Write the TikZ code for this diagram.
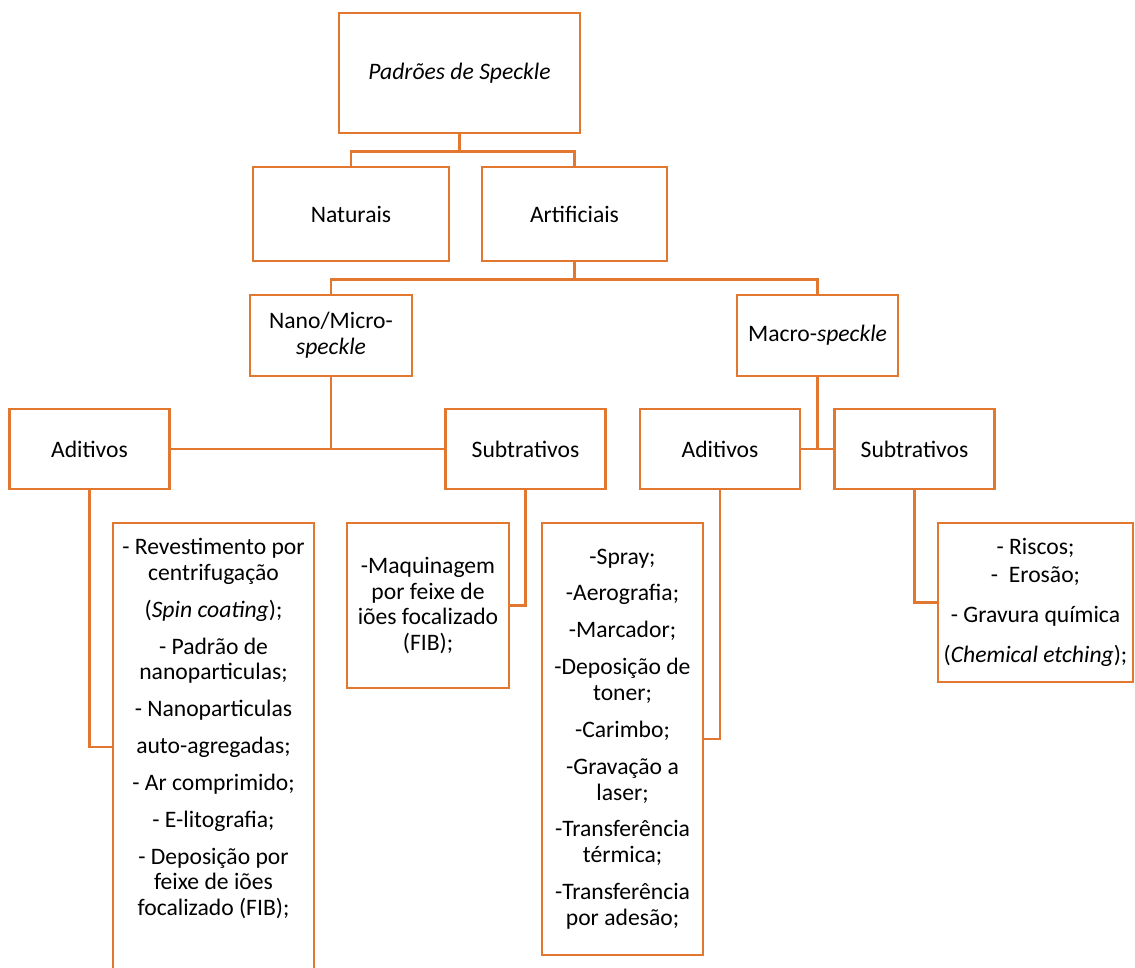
\documentclass[tikz,border=0pt]{standalone}
\usepackage{fontspec}
\setmainfont{Carlito}
\usepackage{xcolor}
\usepackage{tikz}
\usetikzlibrary{positioning}
\definecolor{boxorange}{RGB}{226,120,48}

\begin{document}
\begin{tikzpicture}[on grid,
    every node/.style={font=\fontsize{16.8}{18.4}\selectfont},
    box/.style={draw=boxorange,line width=2pt,inner sep=0pt,align=center},
    smallbox/.style={box,minimum width=4cm,minimum height=2cm},
    link/.style={draw=boxorange,line width=1.8pt}]
    \useasboundingbox (0,0) rectangle (28.375,-24.175);
    \clip (0,0) rectangle (28.375,-24.175);
    	\node (top) [box,minimum width=6.025cm,minimum height=3cm] at (11.4875,-1.825) {\textit{Padrões de Speckle}};
    	\node (nat) [box,minimum width=4.9cm,minimum height=2.35cm,below left=3.525cm and 2.7125cm of top] {Naturais};
    	\node (art) [box,minimum width=4.625cm,minimum height=2.35cm,right=5.5875cm of nat] {Artificiais};
    	\node (nano) [box,minimum width=4.05cm,minimum height=2.025cm,below left=3.0375cm and 6.0875cm of art] {Nano/Micro-\\\textit{speckle}};
    	\node (macro) [box,minimum width=4.025cm,minimum height=2.025cm,right=12.1625cm of nano] {Macro-\textit{speckle}};
    	\node (adit1) [smallbox,below left=2.8375cm and 6.0375cm of nano] {Aditivos};
    	\node (subt1) [smallbox,right=10.9cm of adit1] {Subtrativos};
    	\node (adit2) [smallbox,right=4.8625cm of subt1] {Aditivos};
    	\node (subt2) [smallbox,right=4.8625cm of adit2] {Subtrativos};
    	\node (list1) [box,minimum width=5.025cm,minimum height=11.2cm,below right=7.45cm and 3.1cm of adit1] {\parbox[c][11.1cm][t]{4.9cm}{\centering\vspace*{0.33cm}
    	- Revestimento por\\
    	centrifugação\\[7.8pt]
    	(\textit{Spin coating});\\[7.8pt]
    	- Padrão de\\
    	nanoparticulas;\\[7.8pt]
    	- Nanoparticulas\\[7.8pt]
    	auto-agregadas;\\[7.8pt]
    	- Ar comprimido;\\[7.8pt]
    	- E-litografia;\\[7.8pt]
    	- Deposição por\\
    	feixe de iões\\
    	focalizado (FIB);}};
    	\node (list2) [box,minimum width=4.05cm,minimum height=4.125cm,below left=3.9125cm and 2.4375cm of subt1] {-Maquinagem\\por feixe de\\iões focalizado\\(FIB);};
    	\node (list3) [box,minimum width=4.025cm,minimum height=10.8cm,below left=7.25cm and 2.4375cm of adit2] {-Spray;\\[7.8pt]
    	-Aerografia;\\[7.8pt]
    	-Marcador;\\[7.8pt]
    	-Deposição de\\toner;\\[7.8pt]
    	-Carimbo;\\[7.8pt]
    	-Gravação a\\laser;\\[7.8pt]
    	-Transferência\\térmica;\\[7.8pt]
    	-Transferência\\por adesão;};
    	\node (list4) [box,minimum width=4.875cm,minimum height=3.975cm,below right=3.8375cm and 3.025cm of subt2] {- Riscos;\\[1.4pt]
    	-~ Erosão;\\[9.9pt]
    	- Gravura química\\[9.9pt]
    	(\textit{Chemical etching});};
    	% connectors
    	\draw[link] (top.south) -- ++(0,-0.425) coordinate (j1) -| (nat.north);
    	\draw[link] (j1) -| (art.north);
    	\draw[link] (art.south) -- ++(0,-0.425) coordinate (j2) -| (nano.north);
    	\draw[link] (j2) -| (macro.north);
    	\draw[link] (nano.south) -- (nano.south |- adit1.east);
    	\draw[link] (adit1.east) -- (subt1.west);
    	\draw[link] (macro.south) -- (macro.south |- adit2.east);
    	\draw[link] (adit2.east) -- (subt2.west);
    	\draw[link] (adit1.south) |- (list1.west);
    	\draw[link] (subt1.south) |- (list2.east);
    	\draw[link] (adit2.south) |- (list3.east);
    	\draw[link] (subt2.south) |- (list4.west);
\end{tikzpicture}
\end{document}
